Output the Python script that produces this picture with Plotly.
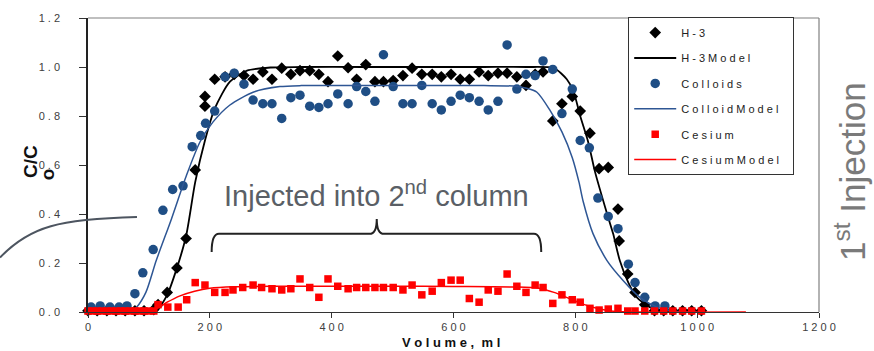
import plotly.graph_objects as go

# ---------------- data ----------------
h3_x = [0, 15, 31, 46, 61, 77, 92, 108, 115, 130, 146, 161, 176, 192, 192, 208, 225, 240, 256, 271,
        287, 302, 318, 333, 348, 364, 379, 394, 410, 427, 441, 456, 471, 485, 501, 517, 532, 548,
        565, 580, 596, 611, 626, 642, 657, 673, 688, 704, 719, 734, 747, 763, 778, 795, 808, 824,
        839, 854, 870, 872, 886, 898, 914, 930, 945, 960, 976, 991, 1007]
h3_y = [0.005, 0.005, 0.005, 0.005, 0.005, 0.005, 0.005, 0.01, 0.03, 0.08, 0.18, 0.30, 0.58, 0.84, 0.88,
        0.95, 0.96, 0.97, 0.965, 0.95, 0.98, 0.95, 0.995, 0.97, 0.985, 0.985, 0.97, 0.94, 1.045, 0.997,
        0.95, 1.01, 0.94, 0.94, 0.945, 0.965, 0.995, 0.97, 0.97, 0.96, 0.97, 0.95, 0.95, 0.98, 0.965,
        0.975, 0.975, 0.96, 0.925, 0.97, 0.98, 0.78, 0.85, 0.88, 0.82, 0.73, 0.585, 0.59, 0.42, 0.29,
        0.155, 0.08, 0.03, 0.005, 0.005, 0.005, 0.005, 0.005, 0.005]

h3_model_x = [0, 100, 115, 130, 146, 161, 176, 192, 208, 233, 261, 300, 350, 450, 550, 650, 720, 765,
              786, 797, 808, 821, 832, 851, 862, 873, 887, 901, 922, 950, 1000]
h3_model_y = [0, 0, 0.015, 0.07, 0.18, 0.31, 0.53, 0.70, 0.83, 0.94, 0.985, 0.998, 1.0, 1.0, 1.0,
              1.0, 1.0, 0.995, 0.95, 0.90, 0.80, 0.695, 0.575, 0.41, 0.32, 0.21, 0.12, 0.06, 0.02,
              0.003, 0]

col_x = [5, 20, 36, 51, 64, 77, 90, 107, 123, 139, 156, 171, 185, 193, 208, 225, 240, 256, 271, 287,
         302, 318, 333, 348, 364, 379, 394, 410, 427, 441, 456, 471, 485, 501, 517, 532, 548, 565,
         580, 596, 611, 626, 642, 657, 673, 688, 704, 719, 734, 747, 763, 778, 795, 808, 823, 837,
         854, 870, 887, 898, 914, 931, 947]
col_y = [0.02, 0.025, 0.02, 0.02, 0.025, 0.075, 0.16, 0.255, 0.415, 0.50, 0.515, 0.675, 0.72, 0.77,
         0.82, 0.96, 0.975, 0.93, 0.865, 0.85, 0.85, 0.79, 0.875, 0.885, 0.84, 0.835, 0.85, 0.89,
         0.85, 0.92, 0.90, 0.86, 1.05, 0.92, 0.85, 0.85, 0.925, 0.85, 0.825, 0.86, 0.885, 0.875,
         0.86, 0.825, 0.86, 1.09, 0.91, 0.97, 0.965, 1.025, 0.99, 0.81, 0.91, 0.70, 0.67, 0.465,
         0.39, 0.34, 0.195, 0.12, 0.06, 0.025, 0.025]

col_model_x = [0, 70, 80, 95, 112, 137, 162, 184, 205, 233, 271, 315, 350, 450, 550, 650, 698, 720,
               737, 758, 778, 795, 806, 813, 829, 852, 878, 906, 934, 960, 1000]
col_model_y = [0, 0, 0.02, 0.08, 0.21, 0.38, 0.56, 0.695, 0.775, 0.845, 0.897, 0.92, 0.924, 0.924,
               0.924, 0.924, 0.922, 0.913, 0.897, 0.825, 0.735, 0.63, 0.53, 0.45, 0.32, 0.21, 0.13,
               0.06, 0.02, 0.003, 0]

cs_x = [0, 8, 15, 23, 31, 38, 46, 54, 61, 69, 77, 85, 92, 100, 108, 115, 131, 148, 162, 176, 192, 208,
        225, 238, 254, 271, 285, 302, 318, 333, 348, 364, 379, 394, 410, 427, 441, 456, 471, 485, 501,
        517, 532, 548, 565, 580, 596, 611, 626, 642, 657, 673, 688, 704, 719, 734, 747, 763, 778, 795,
        808, 824, 839, 854, 870, 886, 898, 914, 930, 945, 960, 976, 991, 1007]
cs_y = [0.004, 0.004, 0.004, 0.004, 0.004, 0.004, 0.004, 0.004, 0.004, 0.004, 0.004, 0.004, 0.004,
        0.004, 0.004, 0.03, 0.02, 0.02, 0.05, 0.12, 0.11, 0.08, 0.08, 0.09, 0.10, 0.11, 0.10, 0.095,
        0.09, 0.095, 0.135, 0.10, 0.06, 0.135, 0.105, 0.095, 0.10, 0.10, 0.10, 0.10, 0.10, 0.09, 0.11,
        0.07, 0.085, 0.12, 0.13, 0.13, 0.055, 0.04, 0.09, 0.085, 0.155, 0.105, 0.08, 0.11, 0.10, 0.035,
        0.07, 0.05, 0.04, 0.015, 0.008, 0.012, 0.015, 0.004, 0.004, 0.004, 0.004, 0.004, 0.004, 0.004,
        0.004, 0.004]

cs_model_x = [0, 95, 110, 130, 150, 175, 200, 240, 300, 400, 500, 600, 700, 740, 765, 790, 815, 840,
              862, 900, 1080]
cs_model_y = [0, 0, 0.01, 0.04, 0.065, 0.085, 0.097, 0.103, 0.105, 0.105, 0.105, 0.104, 0.102, 0.097,
              0.08, 0.055, 0.03, 0.012, 0.003, 0, 0]

NB = "\u00a0"
y_tick_vals = [0, 0.2, 0.4, 0.6, 0.8, 1.0, 1.2]
y_tick_text = ["0 . 0", "0 . 2", "0 . 4", "0 . 6", "0 . 8", "1 . 0", "1 . 2"]
x_tick_vals = [0, 200, 400, 600, 800, 1000, 1200]
x_tick_text = ["0", "2 0 0", "4 0 0", "6 0 0", "8 0 0", "1 0 0 0", "1 2 0 0"]

names = ["H - 3", "H - 3 M o d e l", "C o l l o i d s", "C o l l o i d M o d e l",
         "C e s i u m", "C e s i u m M o d e l"]


def spaced(s):
    return s.replace(" ", NB)


# ---------------- figure ----------------
FONT = "Liberation Sans, Arial, sans-serif"
BLUE = "#1F4E85"
BLUE_LINE = "#2E5694"
RED = "#FF0000"

legend_names = [spaced(n) for n in names]
legend_names[3] = legend_names[3] + NB * 3  # extra right padding inside the legend box

fig = go.Figure()
fig.add_trace(go.Scatter(x=h3_x, y=h3_y, mode="markers", name=legend_names[0], legendgroup="a",
                         marker=dict(symbol="diamond", size=9, color="black"), cliponaxis=False))
fig.add_trace(go.Scatter(x=h3_model_x, y=h3_model_y, mode="lines", name=legend_names[1], legendgroup="b",
                         line=dict(color="black", width=1.8, shape="spline", smoothing=0.7)))
fig.add_trace(go.Scatter(x=col_x, y=col_y, mode="markers", name=legend_names[2], legendgroup="c",
                         marker=dict(symbol="circle", size=9.5, color=BLUE), cliponaxis=False))
fig.add_trace(go.Scatter(x=col_model_x, y=col_model_y, mode="lines", name=legend_names[3], legendgroup="d",
                         line=dict(color=BLUE_LINE, width=1.5, shape="spline", smoothing=0.7)))
fig.add_trace(go.Scatter(x=cs_x, y=cs_y, mode="markers", name=legend_names[4], legendgroup="e",
                         marker=dict(symbol="square", size=7.5, color=RED), cliponaxis=False))
fig.add_trace(go.Scatter(x=cs_model_x, y=cs_model_y, mode="lines", name=legend_names[5], legendgroup="f",
                         line=dict(color=RED, width=1.5, shape="spline", smoothing=0.7)))

fig.update_layout(
    width=874, height=351,
    margin=dict(l=88, r=55, t=15, b=39),
    paper_bgcolor="white", plot_bgcolor="white",
    font=dict(family=FONT, size=10, color="#333333"),
    showlegend=True,
    legend=dict(x=0.739, y=1.003, xanchor="left", yanchor="top",
                bgcolor="white", bordercolor="#333333", borderwidth=1,
                font=dict(family=FONT, size=11, color="#222222"),
                tracegroupgap=6.4, itemwidth=42),
    xaxis=dict(range=[0, 1200], tickvals=x_tick_vals, ticktext=[spaced(t) for t in x_tick_text],
               showgrid=False, zeroline=False, showline=True, linecolor="#333333", linewidth=1,
               ticks="outside", ticklen=5, tickcolor="#333333",
               tickfont=dict(family=FONT, size=11, color="#404040")),
    yaxis=dict(range=[0, 1.2], tickvals=y_tick_vals, ticktext=[spaced(t) for t in y_tick_text],
               showgrid=False, zeroline=False, showline=True, linecolor="#222222", linewidth=1.5,
               ticks="outside", ticklen=7, tickcolor="#333333", ticklabelstandoff=17,
               tickfont=dict(family=FONT, size=11, color="#404040")),
)

# plot-area frame (top and right, grey)
fig.add_shape(type="line", xref="paper", yref="paper", x0=0, x1=1, y0=1, y1=1,
              line=dict(color="#808080", width=1.2))
fig.add_shape(type="line", xref="paper", yref="paper", x0=1, x1=1, y0=0, y1=1,
              line=dict(color="#808080", width=1.2))

# axis titles
fig.add_annotation(text="<b>" + spaced("V o l u m e ,  m l") + "</b>", xref="paper", yref="paper",
                   x=0.497, y=-0.104, xanchor="center", yanchor="middle", showarrow=False,
                   font=dict(family=FONT, size=13, color="#111111"))
fig.add_annotation(text="<b>C/C</b>", xref="paper", yref="paper", x=-0.0793, y=0.51,
                   xanchor="center", yanchor="middle", textangle=-90, showarrow=False,
                   font=dict(family=FONT, size=19, color="#111111"))
fig.add_annotation(text="<b>o</b>", xref="paper", yref="paper", x=-0.055, y=0.468,
                   xanchor="center", yanchor="middle", textangle=-90, showarrow=False,
                   font=dict(family=FONT, size=19, color="#111111"))

# "Injected into 2nd column" with bracket
fig.add_annotation(text="Injected into 2<sup>nd</sup> column", xref="x", yref="y",
                   x=474, y=0.482, xanchor="center", yanchor="middle", showarrow=False,
                   font=dict(family=FONT, size=29, color="#5a5f66"))
fig.add_shape(type="path", xref="x", yref="y",
              path="M 203,0.245 Q 203,0.319 215,0.319 L 462,0.319 Q 474,0.319 474,0.38 "
                   "Q 474,0.319 486,0.319 L 732,0.319 Q 744,0.319 744,0.245",
              line=dict(color="#222222", width=2))

# curved connector on the left
fig.add_shape(type="path", xref="paper", yref="paper",
              path="M -0.1204,0.185 C -0.0794,0.293 -0.0383,0.316 0.067,0.323",
              line=dict(color="#4d5560", width=2))

# "1st Injection"
fig.add_annotation(text="1<sup>st</sup> Injection", xref="paper", yref="paper",
                   x=1.043, y=0.478, xanchor="center", yanchor="middle", textangle=-90,
                   showarrow=False, font=dict(family=FONT, size=35, color="#7a7a7a"))

fig.write_html("out.html")
